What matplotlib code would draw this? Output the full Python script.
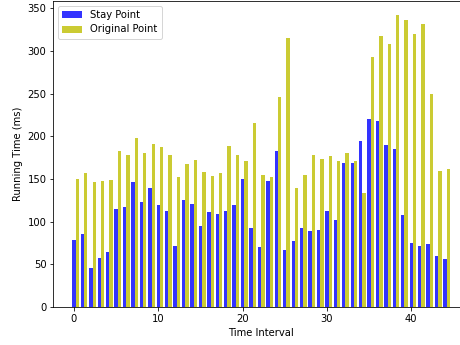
import numpy as np
import matplotlib
matplotlib.use("Agg")
import matplotlib.pyplot as plt

# running time per time interval (ms)
stay_point = [79, 85, 46, 57, 65, 115, 117, 147, 123, 140,
              120, 112, 72, 125, 121, 95, 111, 109, 112, 119,
              150, 93, 70, 148, 183, 67, 77, 92, 89, 90,
              113, 102, 169, 169, 194, 220, 218, 190, 185, 108,
              75, 72, 74, 60, 56]
original_point = [150, 157, 146, 148, 149, 183, 178, 198, 180, 191,
                  188, 178, 152, 167, 172, 158, 153, 157, 189, 178,
                  171, 216, 155, 152, 246, 315, 140, 155, 178, 173,
                  177, 171, 180, 171, 134, 293, 318, 308, 342, 336,
                  320, 332, 250, 159, 162]

x = np.arange(len(stay_point))
width = 0.4

fig = plt.figure(figsize=(460 / 72, 345 / 72), dpi=72)
# the original picture is cut off on the right, so the axes run past the edge
ax = fig.add_axes([53.4 / 460, 38 / 345, 415.5 / 460, 306.5 / 345])

ax.bar(x, stay_point, width, color='blue', alpha=0.8, label='Stay Point')
ax.bar(x + width, original_point, width, color='y', alpha=0.8, label='Original Point')

ax.set_xlabel('Time Interval')
ax.set_ylabel('Running Time (ms)')
ax.legend(loc='upper left')
ax.spines['right'].set_visible(False)

fig.savefig('out.png', dpi=72)
